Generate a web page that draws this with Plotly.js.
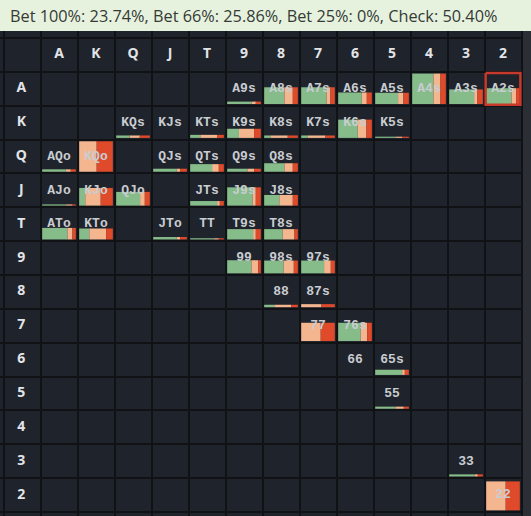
<!DOCTYPE html>
<html>
<head>
<meta charset="utf-8">
<script src="https://cdn.plot.ly/plotly-3.0.1.min.js"></script>
<style>html,body{margin:0;padding:0;background:#2b2e34;}#chart{width:531px;height:516px;}</style>
</head>
<body>
<div id="chart"></div>
<script>
// ---- data ----
const ranks = ['A','K','Q','J','T','9','8','7','6','5','4','3','2'];
const actionNames = ['Bet 100%','Bet 66%','Bet 25%','Check'];
const actionTotals = ['23.74%','25.86%','0%','50.40%'];

const hands      = ['A9s','A8s','A7s','A6s','A5s','A4s','A3s','A2s',
                    'KQs','KJs','KTs','K9s','K8s','K7s','K6s','K5s',
                    'AQo','KQo','QJs','QTs','Q9s','Q8s',
                    'AJo','KJo','QJo','JTs','J9s','J8s',
                    'ATo','KTo','JTo','TT','T9s','T8s',
                    '99','98s','97s','88','87s','77','76s','66','65s','55','33','22'];
const weight     = [0.08,0.55,0.55,0.38,0.37,1.00,0.48,0.52,
                    0.08,0.00,0.10,0.30,0.08,0.08,0.60,0.04,
                    0.08,1.00,0.10,0.25,0.10,0.28,
                    0.04,0.58,0.45,0.15,0.60,0.35,
                    0.38,0.36,0.08,0.04,0.34,0.34,
                    0.43,0.42,0.42,0.08,0.10,0.60,0.60,0.00,0.17,0.07,0.07,0.95];
const checkFreq  = [0.72,0.60,0.75,0.70,0.68,0.63,0.74,0.75,
                    0.40,0.60,0.30,0.35,0.20,0.20,0.58,0.60,
                    0.70,0.00,0.70,0.65,0.60,0.60,
                    0.70,0.18,0.71,0.80,0.75,0.45,
                    0.75,0.30,0.70,0.70,0.77,0.55,
                    0.72,0.58,0.68,0.30,0.00,0.00,0.67,0.60,0.80,0.60,0.75,0.00];
const bet66Freq  = [0.13,0.25,0.12,0.15,0.16,0.21,0.10,0.14,
                    0.30,0.20,0.50,0.45,0.50,0.52,0.26,0.20,
                    0.15,0.52,0.10,0.20,0.20,0.25,
                    0.20,0.46,0.14,0.08,0.10,0.40,
                    0.15,0.50,0.10,0.15,0.08,0.35,
                    0.20,0.30,0.20,0.50,0.60,0.58,0.19,0.20,0.08,0.25,0.10,0.58];
const bet100Freq = [0.15,0.15,0.13,0.15,0.16,0.16,0.16,0.11,
                    0.30,0.20,0.20,0.20,0.30,0.28,0.16,0.20,
                    0.15,0.48,0.20,0.15,0.20,0.15,
                    0.10,0.36,0.15,0.12,0.15,0.15,
                    0.10,0.20,0.20,0.15,0.15,0.10,
                    0.08,0.12,0.12,0.20,0.40,0.42,0.14,0.20,0.12,0.15,0.15,0.42];
const selectedHand = 'A2s';

// ---- styling ----
const COLORS = {check:'#86bc89', bet66:'#f3b68f', bet100:'#df4a2b'};
const PADX = 0.045, PADY = 0.05;
const innerW = 1 - 2*PADX, innerH = 1 - 2*PADY;

function cellOf(h){
  const r1 = ranks.indexOf(h[0]), r2 = ranks.indexOf(h[1]);
  if (h.length === 2) return {row:r1, col:r1};
  if (h[2] === 's') return {row:r1, col:r2};
  return {row:r2, col:r1};
}

const segs = [
  {name:'Check', freq:checkFreq, color:COLORS.check},
  {name:'Bet 66%', freq:bet66Freq, color:COLORS.bet66},
  {name:'Bet 100%', freq:bet100Freq, color:COLORS.bet100}
];
const cum = hands.map(()=>0);
const traces = [];
segs.forEach(s=>{
  const xs=[], ws=[], bs=[], ys=[];
  hands.forEach((h,k)=>{
    const f = s.freq[k], w = weight[k];
    const c = cellOf(h);
    if (f > 0 && w > 0){
      xs.push(c.col + 1 + PADX + (cum[k] + f/2)*innerW);
      ws.push(f*innerW);
      bs.push(c.row + 2 - PADY);
      ys.push(-w*innerH);
    }
    cum[k] += f;
  });
  traces.push({type:'bar', x:xs, y:ys, base:bs, width:ws, name:s.name,
    marker:{color:s.color, line:{width:0}}, hoverinfo:'skip', showlegend:false});
});

// hand labels
traces.push({type:'scatter', mode:'text',
  x:hands.map(h=>cellOf(h).col+1.5), y:hands.map(h=>cellOf(h).row+1.5),
  text:hands, textfont:{family:'Liberation Mono', size:13, color:'#c9ccd1', weight:'bold'},
  hoverinfo:'skip', showlegend:false});
// column headers
traces.push({type:'scatter', mode:'text',
  x:ranks.map((r,i)=>i+1.5), y:ranks.map(()=>0.5), text:ranks,
  textfont:{family:'Noto Sans', size:14, color:'#e2e4e8', weight:'bold'},
  hoverinfo:'skip', showlegend:false});
// row headers
traces.push({type:'scatter', mode:'text',
  x:ranks.map(()=>0.48), y:ranks.map((r,i)=>i+1.5), text:ranks,
  textfont:{family:'Noto Sans', size:14, color:'#e2e4e8', weight:'bold'},
  hoverinfo:'skip', showlegend:false});
// selected cell border
const sc = cellOf(selectedHand);
const e = 0.03;
traces.push({type:'scatter', mode:'lines',
  x:[sc.col+1+e, sc.col+2-e, sc.col+2-e, sc.col+1+e, sc.col+1+e],
  y:[sc.row+1+e, sc.row+1+e, sc.row+2-e, sc.row+2-e, sc.row+1+e],
  line:{color:'#c8392b', width:2.5}, hoverinfo:'skip', showlegend:false});

const titleText = actionNames.map((n,i)=>n+': '+actionTotals[i]).join(', ');
const tickv = Array.from({length:15},(_,i)=>i);

const layout = {
  width:531, height:516,
  margin:{l:0, r:8, t:31, b:0, pad:0},
  paper_bgcolor:'#2b2e34', plot_bgcolor:'#1f232b',
  barmode:'overlay',
  title:{text:titleText, x:10/531, xanchor:'left', xref:'container',
         y:1-16/516, yanchor:'middle', yref:'container',
         font:{family:'Open Sans', size:16.3, color:'#353a35'}},
  xaxis:{range:[-0.095, 14.04], tickvals:tickv, showticklabels:false, ticks:'',
         showgrid:true, gridcolor:'#101216', gridwidth:2, zeroline:false, fixedrange:true},
  yaxis:{range:[14.117, -0.207], tickvals:tickv, showticklabels:false, ticks:'',
         showgrid:true, gridcolor:'#101216', gridwidth:2, zeroline:false, fixedrange:true},
  shapes:[{type:'rect', xref:'paper', yref:'paper', x0:-0.02, x1:1.03, y0:1, y1:1.08,
           fillcolor:'#e6f2de', line:{width:0}, layer:'below'}],
  showlegend:false
};
Plotly.newPlot('chart', traces, layout, {displayModeBar:false, staticPlot:true});
</script>
</body>
</html>
